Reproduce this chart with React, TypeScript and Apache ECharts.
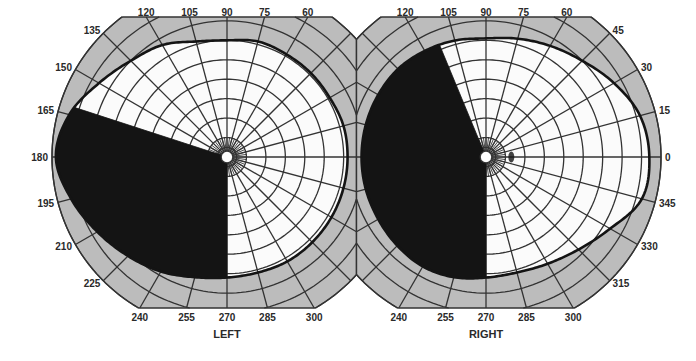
import React, { useEffect, useRef } from "react";
import * as echarts from "echarts";

// ---- data (visual field in degrees) ----
const fieldAngles = [0, 15, 30, 45, 60, 75, 90, 105, 120, 135, 150, 165, 180, 195, 210, 225, 240, 255, 270, 285, 300, 315, 330, 345];
const leftFieldRadii = [62, 62, 61, 61, 61, 61.5, 60, 61.5, 66.5, 70, 76, 84, 88, 83, 77, 72, 68, 64, 62, 61.5, 62, 62, 62, 62];
const rightFieldRadii = [84, 82, 76, 70, 66, 63, 61, 62, 63, 64, 64, 64, 64, 64, 64, 64.5, 65, 64, 62, 61.5, 63.4, 67.3, 73.7, 83];
const leftScotomaAngles = [162, 270];
const rightScotomaAngles = [112.5, 270];
const rightBlindSpot = [[13, 0]];

// ---- grid / tick labels ----
const ringValues = [5, 10, 20, 30, 40, 50, 60, 70, 80, 90];
const spokeAngles = [0, 15, 30, 45, 60, 75, 90, 105, 120, 135, 150, 165, 180, 195, 210, 225, 240, 255, 270, 285, 300, 315, 330, 345];
const innerSpokeAngles = Array.from({ length: 48 }, (_, i) => i * 7.5);
const leftTickLabels = [60, 75, 90, 105, 120, 135, 150, 165, 180, 195, 210, 225, 240, 255, 270, 285, 300];
const rightTickLabels = [240, 255, 270, 285, 300, 315, 330, 345, 0, 15, 30, 45, 60, 75, 90, 105, 120];
const eyeTitles = ["LEFT", "RIGHT"];

const GRAY = "#bcbcbc";
const FIELD = "#fbfbfb";
const LINE = "#333333";
const INK = "#141414";
const LABEL = "#2a2a2a";
const FONT = '"Liberation Sans", Arial, sans-serif';

type Box = { x0: number; x1: number; y0: number; y1: number };

const eyes = [
  {
    title: eyeTitles[0],
    center: [227, 157],
    box: { x0: -Infinity, x1: 356.5, y0: 17, y1: 308 } as Box,
    radii: leftFieldRadii,
    scotoma: leftScotomaAngles,
    labels: leftTickLabels,
  },
  {
    title: eyeTitles[1],
    center: [486, 157],
    box: { x0: 356.5, x1: Infinity, y0: 17, y1: 308 } as Box,
    radii: rightFieldRadii,
    scotoma: rightScotomaAngles,
    labels: rightTickLabels,
  },
];

function fieldRadiusAt(radii: number[], angle: number) {
  const n = radii.length;
  const step = fieldAngles[1] - fieldAngles[0];
  const u = ((((angle - fieldAngles[0]) % 360) + 360) % 360) / step;
  const i = Math.floor(u);
  const t = u - i;
  const g = (k: number) => radii[((k % n) + n) % n];
  const p0 = g(i - 1), p1 = g(i), p2 = g(i + 1), p3 = g(i + 2);
  return 0.5 * (2 * p1 + (-p0 + p2) * t + (2 * p0 - 5 * p1 + 4 * p2 - p3) * t * t + (-p0 + 3 * p1 - 3 * p2 + p3) * t * t * t);
}

function clipSegment(p: number[], q: number[], b: Box) {
  let t0 = 0, t1 = 1;
  const dx = q[0] - p[0], dy = q[1] - p[1];
  const checks = [
    [-dx, p[0] - b.x0],
    [dx, b.x1 - p[0]],
    [-dy, p[1] - b.y0],
    [dy, b.y1 - p[1]],
  ];
  for (const [pp, qq] of checks) {
    if (pp === 0) {
      if (qq < 0) return null;
    } else {
      const r = qq / pp;
      if (pp < 0) {
        if (r > t1) return null;
        if (r > t0) t0 = r;
      } else {
        if (r < t0) return null;
        if (r < t1) t1 = r;
      }
    }
  }
  return { a: [p[0] + t0 * dx, p[1] + t0 * dy], b: [p[0] + t1 * dx, p[1] + t1 * dy], t0, t1 };
}

function clipPolyline(points: number[][], b: Box) {
  const runs: number[][][] = [];
  let cur: number[][] | null = null;
  for (let i = 0; i < points.length - 1; i++) {
    const s = clipSegment(points[i], points[i + 1], b);
    if (!s) {
      if (cur) runs.push(cur);
      cur = null;
      continue;
    }
    if (cur && s.t0 === 0) {
      cur.push(s.b);
    } else {
      if (cur) runs.push(cur);
      cur = [s.a, s.b];
    }
    if (s.t1 < 1) {
      runs.push(cur);
      cur = null;
    }
  }
  if (cur) runs.push(cur);
  return runs;
}

const clamp = (v: number, lo: number, hi: number) => Math.min(hi, Math.max(lo, v));

function makeRender(eye: (typeof eyes)[number]) {
  return (params: any, api: any) => {
    if (params.dataIndex !== 0) return null;
    const b = eye.box;
    const pt = (r: number, a: number) => api.coord([r, a]) as number[];
    const c = pt(0, 0);
    const clampPt = (p: number[]) => [clamp(p[0], b.x0, b.x1), clamp(p[1], b.y0, b.y1)];
    const children: any[] = [];

    // gray disc
    const disc: number[][] = [];
    for (let a = 0; a < 360; a += 0.5) disc.push(clampPt(pt(90, a)));
    children.push({ type: "polygon", shape: { points: disc }, style: { fill: GRAY, stroke: "none" } });

    // white field
    const field: number[][] = [];
    for (let a = 0; a < 360; a += 1) field.push(clampPt(pt(fieldRadiusAt(eye.radii, a), a)));
    children.push({ type: "polygon", shape: { points: field }, style: { fill: FIELD, stroke: "none" } });

    // rings
    for (const rv of ringValues) {
      const pts: number[][] = [];
      for (let a = 0; a <= 360; a += 2) pts.push(pt(rv, a));
      for (const run of clipPolyline(pts, b)) {
        children.push({ type: "polyline", shape: { points: run }, style: { stroke: LINE, lineWidth: 1.3, fill: "none" } });
      }
    }
    // inner dense spokes
    for (const a of innerSpokeAngles) {
      const s = clipSegment(pt(3, a), pt(10, a), b);
      if (s) children.push({ type: "line", shape: { x1: s.a[0], y1: s.a[1], x2: s.b[0], y2: s.b[1] }, style: { stroke: LINE, lineWidth: 0.9 } });
    }
    // main spokes
    for (const a of spokeAngles) {
      const s = clipSegment(pt(3, a), pt(90, a), b);
      if (s) children.push({ type: "line", shape: { x1: s.a[0], y1: s.a[1], x2: s.b[0], y2: s.b[1] }, style: { stroke: LINE, lineWidth: 1.3 } });
    }

    // disc outline
    children.push({ type: "polygon", shape: { points: disc }, style: { fill: "none", stroke: LINE, lineWidth: 1.4 } });

    // black scotoma
    const [a1, a2] = eye.scotoma;
    const black: number[][] = [c];
    for (let a = a1; a < a2; a += 1) black.push(pt(fieldRadiusAt(eye.radii, a), a));
    black.push(pt(fieldRadiusAt(eye.radii, a2), a2));
    children.push({ type: "polygon", shape: { points: black }, style: { fill: INK, stroke: INK, lineWidth: 0.8 } });

    // thick field boundary
    children.push({ type: "polygon", shape: { points: field }, style: { fill: "none", stroke: INK, lineWidth: 2.6 } });

    // center circle
    const e = pt(3, 0);
    const rc = Math.hypot(e[0] - c[0], e[1] - c[1]);
    children.push({ type: "circle", shape: { cx: c[0], cy: c[1], r: rc }, style: { fill: "#ffffff", stroke: LINE, lineWidth: 1.2 } });

    // tick labels
    for (const L of eye.labels) {
      const s = clipSegment(c, pt(90, L), b);
      if (!s) continue;
      const end = s.b;
      let x = end[0], y = end[1], align = "center";
      if (Math.abs(end[1] - b.y0) < 0.5) {
        y = b.y0 - 5;
      } else if (Math.abs(end[1] - b.y1) < 0.5) {
        y = b.y1 + 9;
      } else {
        const dx = end[0] - c[0], dy = end[1] - c[1];
        const len = Math.hypot(dx, dy);
        x = end[0] + (dx / len) * 4;
        y = end[1] + (dy / len) * 4;
        align = dx < 0 ? "right" : "left";
      }
      children.push({
        type: "text",
        x,
        y,
        style: { text: String(L), fill: LABEL, font: `bold 10px ${FONT}`, align, verticalAlign: "middle" },
      });
    }

    // eye title
    children.push({
      type: "text",
      x: c[0],
      y: b.y1 + 26,
      style: { text: eye.title, fill: LABEL, font: `bold 11px ${FONT}`, align: "center", verticalAlign: "middle" },
    });

    return { type: "group", children };
  };
}

const option: any = {
  animation: false,
  backgroundColor: "#ffffff",
  polar: eyes.map((e) => ({ center: e.center, radius: 175 })),
  angleAxis: eyes.map((_, i) => ({
    polarIndex: i,
    type: "value",
    min: 0,
    max: 360,
    startAngle: 0,
    clockwise: false,
    show: false,
  })),
  radiusAxis: eyes.map((_, i) => ({ polarIndex: i, type: "value", min: 0, max: 90, show: false })),
  series: [
    ...eyes.map((eye, i) => ({
      type: "custom",
      coordinateSystem: "polar",
      polarIndex: i,
      silent: true,
      data: fieldAngles.map((a, k) => [eye.radii[k], a]),
      renderItem: makeRender(eye),
    })),
    {
      type: "scatter",
      coordinateSystem: "polar",
      polarIndex: 1,
      silent: true,
      z: 10,
      data: rightBlindSpot,
      symbol: "circle",
      symbolSize: [6, 11],
      itemStyle: { color: INK },
    },
  ],
};

export default function App() {
  const ref = useRef<HTMLDivElement>(null);
  useEffect(() => {
    const chart = echarts.init(ref.current!, null, { renderer: "svg" });
    chart.setOption(option);
    return () => chart.dispose();
  }, []);
  return <div ref={ref} style={{ position: "absolute", left: 0, top: 0, width: 696, height: 361 }} />;
}
